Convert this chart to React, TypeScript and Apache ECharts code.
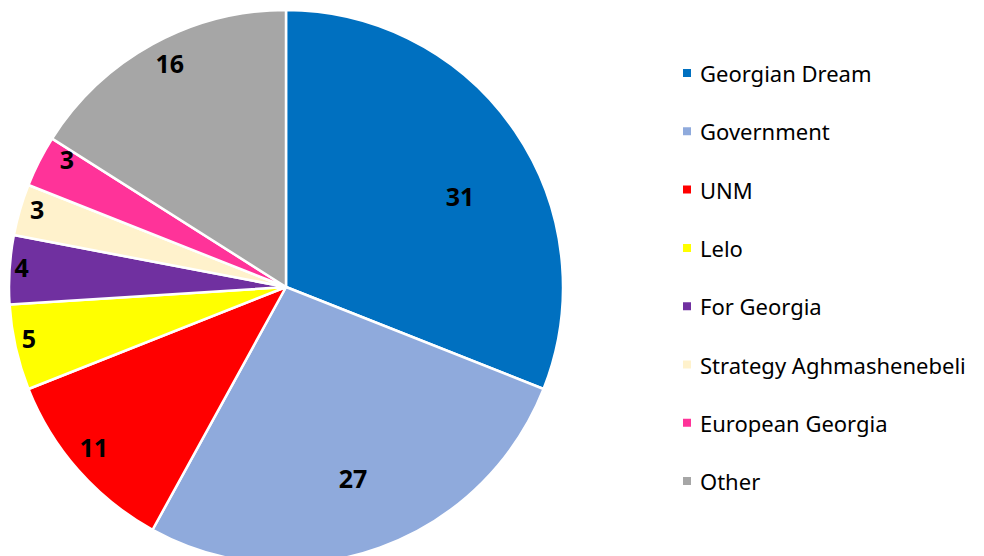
import React, { useEffect, useRef } from "react";
import * as echarts from "echarts";

const categories = [
  "Georgian Dream",
  "Government",
  "UNM",
  "Lelo",
  "For Georgia",
  "Strategy Aghmashenebeli",
  "European Georgia",
  "Other",
];
const values = [31, 27, 11, 5, 4, 3, 3, 16];
const colors = ["#0070C0", "#8FAADC", "#FF0000", "#FFFF00", "#7030A0", "#FFF2CC", "#FF3399", "#A6A6A6"];
const labelOffsets: [number, number][] = [
  [57, -11],
  [19, 58],
  [-86, 66],
  [-119, 20],
  [-123, -11],
  [-113, -39],
  [-93, -64],
  [-48, -100],
];

const FONT = "'Noto Sans', Lato, sans-serif";

export default function App() {
  const ref = useRef<HTMLDivElement>(null);
  useEffect(() => {
    if (!ref.current) return;
    const chart = echarts.init(ref.current, undefined, { renderer: "svg" });
    chart.setOption({
      animation: false,
      backgroundColor: "#ffffff",
      legend: {
        orient: "vertical",
        left: 681,
        top: 61,
        padding: 0,
        icon: "rect",
        itemWidth: 10,
        itemHeight: 10,
        itemGap: 34.3,
        textStyle: { fontFamily: FONT, fontSize: 22, color: "#000", lineHeight: 24, padding: [0, 0, 0, 3] },
        data: categories,
      },
      series: [
        {
          type: "pie",
          center: [286, 287],
          radius: [0, 277],
          startAngle: 90,
          clockwise: true,
          itemStyle: { borderColor: "#ffffff", borderWidth: 2.5 },
          label: {
            show: true,
            position: "inside",
            formatter: "{c}",
            fontFamily: FONT,
            fontWeight: "bold",
            fontSize: 25,
            color: "#000",
          },
          labelLine: { show: false },
          emphasis: { disabled: true },
          data: categories.map((name, i) => ({
            name,
            value: values[i],
            itemStyle: { color: colors[i] },
            label: { offset: labelOffsets[i] },
          })),
        },
      ],
    });
    return () => chart.dispose();
  }, []);
  return (
    <div
      ref={ref}
      style={{ position: "fixed", left: 0, top: 0, width: 984, height: 556 }}
    />
  );
}
